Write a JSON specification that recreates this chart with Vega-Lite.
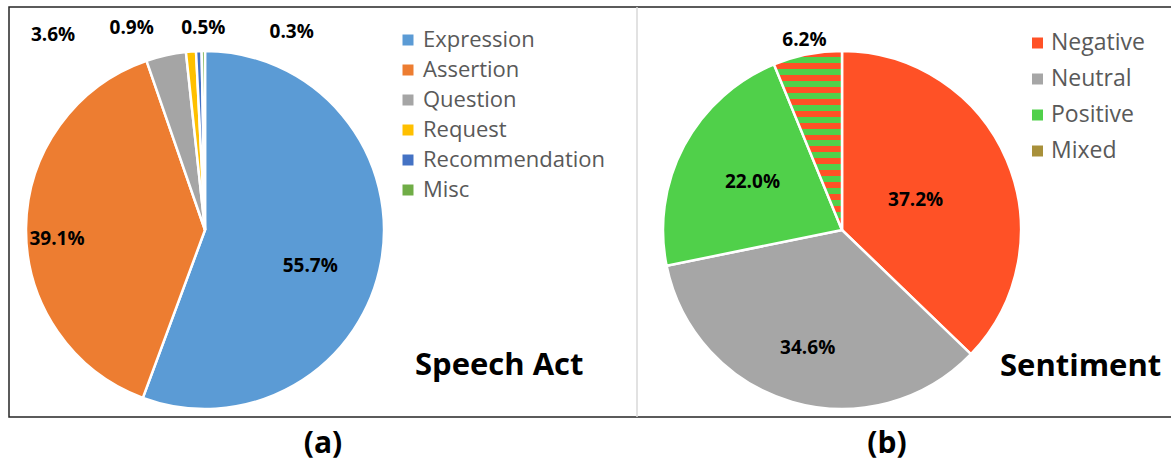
{
  "$schema": "https://vega.github.io/schema/vega-lite/v6.json",
  "width": 1166,
  "height": 410,
  "autosize": {"type": "none"},
  "padding": {"left": 9, "top": 7, "right": -4, "bottom": 44},
  "background": "white",
  "config": {"view": {"stroke": "#262626", "strokeWidth": 1.5}},
  "datasets": {
    "speech": [
      {"act": "Expression", "share": 0.557, "rank": 1},
      {"act": "Assertion", "share": 0.391, "rank": 2},
      {"act": "Question", "share": 0.036, "rank": 3},
      {"act": "Request", "share": 0.009, "rank": 4},
      {"act": "Recommendation", "share": 0.005, "rank": 5},
      {"act": "Misc", "share": 0.003, "rank": 6}
    ],
    "senti": [
      {"sent": "Negative", "share": 0.372, "rank": 1},
      {"sent": "Neutral", "share": 0.346, "rank": 2},
      {"sent": "Positive", "share": 0.22, "rank": 3},
      {"sent": "Mixed", "share": 0.062, "rank": 4}
    ]
  },
  "layer": [
    {
      "data": {"name": "speech"},
      "encoding": {
        "theta": {"field": "share", "type": "quantitative", "stack": true},
        "order": {"field": "rank", "type": "quantitative"}
      },
      "layer": [
        {
          "mark": {"type": "arc", "x": 196, "y": 223, "outerRadius": 179, "stroke": "#ffffff", "strokeWidth": 2.5},
          "encoding": {
            "color": {
              "field": "act", "type": "nominal",
              "scale": {"domain": ["Expression", "Assertion", "Question", "Request", "Recommendation", "Misc"],
                        "range": ["#5B9BD5", "#ED7D31", "#A5A5A5", "#FFC000", "#4472C4", "#70AD47"]},
              "legend": {"orient": "none", "legendX": 388, "legendY": 22, "title": null, "symbolType": "square", "symbolSize": 121, "symbolStrokeWidth": 0, "labelFont": "Open Sans", "labelFontSize": 22, "labelColor": "#595959", "labelOffset": 4, "rowPadding": 8, "labelLimit": 300, "padding": 0}
            }
          }
        },
        {
          "mark": {"type": "text", "x": 196, "y": 223, "radius": 111, "dx": -4, "dy": 16, "font": "Open Sans", "fontWeight": "bold", "fontSize": 19, "fill": "#000000"},
          "encoding": {"detail": {"field": "act"}, "text": {"field": "share", "type": "quantitative", "format": ".1%"}, "opacity": {"condition": {"test": "datum.act === 'Expression'", "value": 1}, "value": 0}}
        },
        {
          "mark": {"type": "text", "x": 196, "y": 223, "radius": 148, "dx": 0, "dy": 11, "font": "Open Sans", "fontWeight": "bold", "fontSize": 19, "fill": "#000000"},
          "encoding": {"detail": {"field": "act"}, "text": {"field": "share", "type": "quantitative", "format": ".1%"}, "opacity": {"condition": {"test": "datum.act === 'Assertion'", "value": 1}, "value": 0}}
        },
        {
          "mark": {"type": "text", "x": 196, "y": 223, "radius": 195, "dx": -109.5, "dy": -4.7, "font": "Open Sans", "fontWeight": "bold", "fontSize": 19, "fill": "#000000"},
          "encoding": {"detail": {"field": "act"}, "text": {"field": "share", "type": "quantitative", "format": ".1%"}, "opacity": {"condition": {"test": "datum.act === 'Question'", "value": 1}, "value": 0}}
        },
        {
          "mark": {"type": "text", "x": 196, "y": 223, "radius": 195, "dx": -58, "dy": -8, "font": "Open Sans", "fontWeight": "bold", "fontSize": 19, "fill": "#000000"},
          "encoding": {"detail": {"field": "act"}, "text": {"field": "share", "type": "quantitative", "format": ".1%"}, "opacity": {"condition": {"test": "datum.act === 'Request'", "value": 1}, "value": 0}}
        },
        {
          "mark": {"type": "text", "x": 196, "y": 223, "radius": 195, "dx": 5, "dy": -7, "font": "Open Sans", "fontWeight": "bold", "fontSize": 19, "fill": "#000000"},
          "encoding": {"detail": {"field": "act"}, "text": {"field": "share", "type": "quantitative", "format": ".1%"}, "opacity": {"condition": {"test": "datum.act === 'Recommendation'", "value": 1}, "value": 0}}
        },
        {
          "mark": {"type": "text", "x": 196, "y": 223, "radius": 195, "dx": 88.5, "dy": -3, "font": "Open Sans", "fontWeight": "bold", "fontSize": 19, "fill": "#000000"},
          "encoding": {"detail": {"field": "act"}, "text": {"field": "share", "type": "quantitative", "format": ".1%"}, "opacity": {"condition": {"test": "datum.act === 'Misc'", "value": 1}, "value": 0}}
        }
      ]
    },
    {
      "data": {"name": "senti"},
      "encoding": {
        "theta": {"field": "share", "type": "quantitative", "stack": true},
        "order": {"field": "rank", "type": "quantitative"}
      },
      "layer": [
        {
          "mark": {"type": "arc", "x": 833, "y": 223, "outerRadius": 179, "stroke": "#ffffff", "strokeWidth": 2.5},
          "encoding": {
            "color": {
              "condition": {"test": "datum.sent === 'Mixed'", "value": {"gradient": "linear", "x1": 0, "y1": 0, "x2": 0, "y2": 1, "stops": [
                {"offset": 0, "color": "#FF5126"}, {"offset": 0.0333, "color": "#FF5126"},
                {"offset": 0.0333, "color": "#50D04A"}, {"offset": 0.0667, "color": "#50D04A"},
                {"offset": 0.0667, "color": "#FF5126"}, {"offset": 0.1, "color": "#FF5126"},
                {"offset": 0.1, "color": "#50D04A"}, {"offset": 0.1333, "color": "#50D04A"},
                {"offset": 0.1333, "color": "#FF5126"}, {"offset": 0.1667, "color": "#FF5126"},
                {"offset": 0.1667, "color": "#50D04A"}, {"offset": 0.2, "color": "#50D04A"},
                {"offset": 0.2, "color": "#FF5126"}, {"offset": 0.2333, "color": "#FF5126"},
                {"offset": 0.2333, "color": "#50D04A"}, {"offset": 0.2667, "color": "#50D04A"},
                {"offset": 0.2667, "color": "#FF5126"}, {"offset": 0.3, "color": "#FF5126"},
                {"offset": 0.3, "color": "#50D04A"}, {"offset": 0.3333, "color": "#50D04A"},
                {"offset": 0.3333, "color": "#FF5126"}, {"offset": 0.3667, "color": "#FF5126"},
                {"offset": 0.3667, "color": "#50D04A"}, {"offset": 0.4, "color": "#50D04A"},
                {"offset": 0.4, "color": "#FF5126"}, {"offset": 0.4333, "color": "#FF5126"},
                {"offset": 0.4333, "color": "#50D04A"}, {"offset": 0.4667, "color": "#50D04A"},
                {"offset": 0.4667, "color": "#FF5126"}, {"offset": 0.5, "color": "#FF5126"},
                {"offset": 0.5, "color": "#50D04A"}, {"offset": 0.5333, "color": "#50D04A"},
                {"offset": 0.5333, "color": "#FF5126"}, {"offset": 0.5667, "color": "#FF5126"},
                {"offset": 0.5667, "color": "#50D04A"}, {"offset": 0.6, "color": "#50D04A"},
                {"offset": 0.6, "color": "#FF5126"}, {"offset": 0.6333, "color": "#FF5126"},
                {"offset": 0.6333, "color": "#50D04A"}, {"offset": 0.6667, "color": "#50D04A"},
                {"offset": 0.6667, "color": "#FF5126"}, {"offset": 0.7, "color": "#FF5126"},
                {"offset": 0.7, "color": "#50D04A"}, {"offset": 0.7333, "color": "#50D04A"},
                {"offset": 0.7333, "color": "#FF5126"}, {"offset": 0.7667, "color": "#FF5126"},
                {"offset": 0.7667, "color": "#50D04A"}, {"offset": 0.8, "color": "#50D04A"},
                {"offset": 0.8, "color": "#FF5126"}, {"offset": 0.8333, "color": "#FF5126"},
                {"offset": 0.8333, "color": "#50D04A"}, {"offset": 0.8667, "color": "#50D04A"},
                {"offset": 0.8667, "color": "#FF5126"}, {"offset": 0.9, "color": "#FF5126"},
                {"offset": 0.9, "color": "#50D04A"}, {"offset": 0.9333, "color": "#50D04A"},
                {"offset": 0.9333, "color": "#FF5126"}, {"offset": 0.9667, "color": "#FF5126"},
                {"offset": 0.9667, "color": "#50D04A"}, {"offset": 1, "color": "#50D04A"}
              ]}},
              "field": "sent", "type": "nominal",
              "scale": {"domain": ["Negative", "Neutral", "Positive", "Mixed"],
                        "range": ["#FF5126", "#A6A6A6", "#50D04A", "#A8903A"]},
              "legend": {
                "orient": "none", "legendX": 1017, "legendY": 24.5, "title": null, "symbolType": "square", "symbolSize": 121, "symbolStrokeWidth": 0, "labelFont": "Open Sans", "labelFontSize": 23, "labelColor": "#595959", "labelOffset": 2, "rowPadding": 12, "labelLimit": 300, "padding": 0
              }
            }
          }
        },
        {
          "mark": {"type": "text", "x": 833, "y": 223, "radius": 80, "dx": 0, "dy": 1, "font": "Open Sans", "fontWeight": "bold", "fontSize": 19, "fill": "#000000"},
          "encoding": {"detail": {"field": "sent"}, "text": {"field": "share", "type": "quantitative", "format": ".1%"}, "opacity": {"condition": {"test": "datum.sent === 'Negative'", "value": 1}, "value": 0}}
        },
        {
          "mark": {"type": "text", "x": 833, "y": 223, "radius": 123, "font": "Open Sans", "fontWeight": "bold", "fontSize": 19, "fill": "#000000"},
          "encoding": {"detail": {"field": "sent"}, "text": {"field": "share", "type": "quantitative", "format": ".1%"}, "opacity": {"condition": {"test": "datum.sent === 'Neutral'", "value": 1}, "value": 0}}
        },
        {
          "mark": {"type": "text", "x": 833, "y": 223, "radius": 101.5, "font": "Open Sans", "fontWeight": "bold", "fontSize": 19, "fill": "#000000"},
          "encoding": {"detail": {"field": "sent"}, "text": {"field": "share", "type": "quantitative", "format": ".1%"}, "opacity": {"condition": {"test": "datum.sent === 'Positive'", "value": 1}, "value": 0}}
        },
        {
          "mark": {"type": "text", "x": 833, "y": 223, "radius": 194, "font": "Open Sans", "fontWeight": "bold", "fontSize": 19, "fill": "#000000"},
          "encoding": {"detail": {"field": "sent"}, "text": {"field": "share", "type": "quantitative", "format": ".1%"}, "opacity": {"condition": {"test": "datum.sent === 'Mixed'", "value": 1}, "value": 0}}
        }
      ]
    },
    {
      "data": {"values": [{}]},
      "mark": {"type": "rule", "stroke": "#D9D9D9", "strokeWidth": 1.5},
      "encoding": {"x": {"value": 628}, "y": {"value": 0}, "y2": {"value": 410}}
    },
    {
      "data": {"values": [{}]},
      "mark": {"type": "text", "text": "Speech Act", "x": 406, "y": 368, "align": "left", "baseline": "alphabetic", "font": "Open Sans", "fontWeight": "bold", "fontSize": 31, "fill": "#000000"}
    },
    {
      "data": {"values": [{}]},
      "mark": {"type": "text", "text": "Sentiment", "x": 991, "y": 369, "align": "left", "baseline": "alphabetic", "font": "Open Sans", "fontWeight": "bold", "fontSize": 31, "fill": "#000000"}
    },
    {
      "data": {"values": [{}]},
      "mark": {"type": "text", "text": "(a)", "x": 314, "y": 446, "align": "center", "baseline": "alphabetic", "font": "Open Sans", "fontWeight": "bold", "fontSize": 30, "fill": "#000000"}
    },
    {
      "data": {"values": [{}]},
      "mark": {"type": "text", "text": "(b)", "x": 878, "y": 446, "align": "center", "baseline": "alphabetic", "font": "Open Sans", "fontWeight": "bold", "fontSize": 30, "fill": "#000000"}
    }
  ],
  "resolve": {"scale": {"theta": "independent", "color": "independent"}, "legend": {"color": "independent"}}
}
